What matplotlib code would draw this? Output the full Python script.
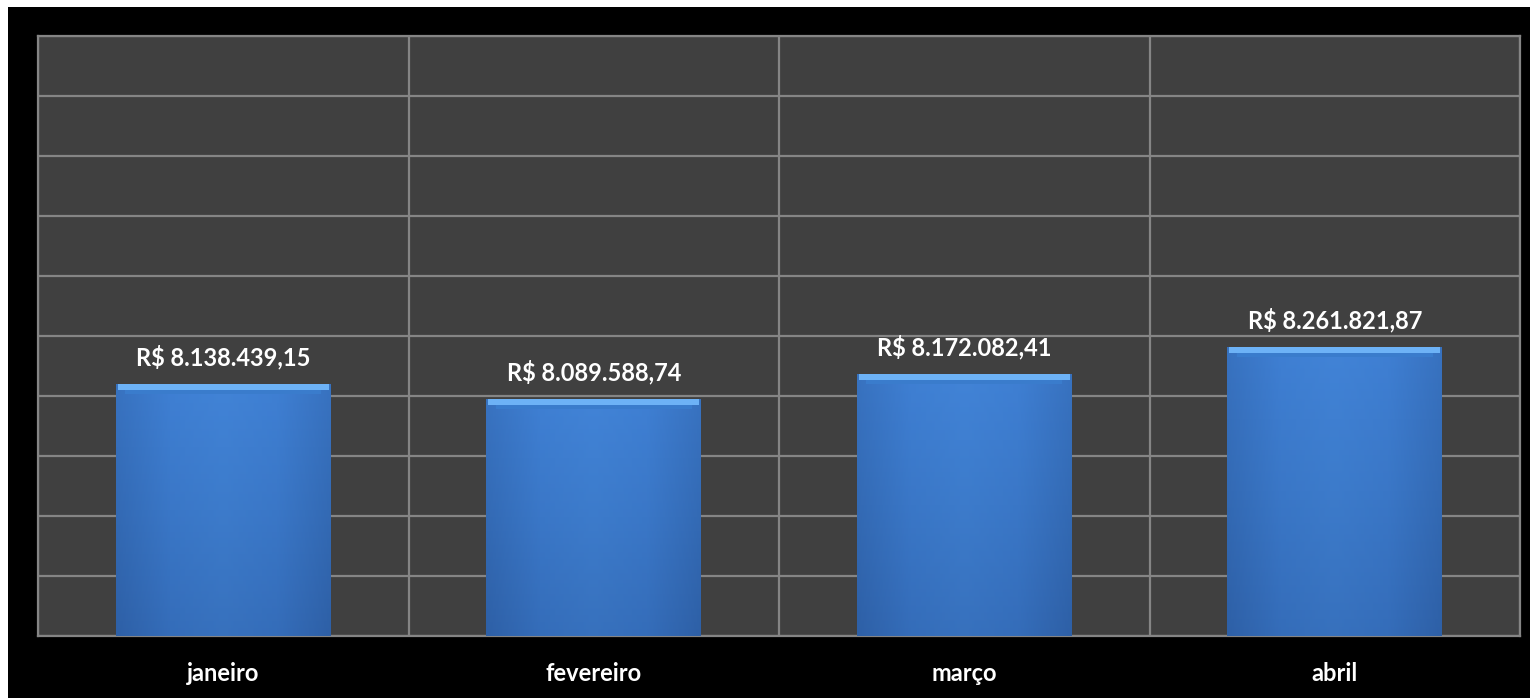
import numpy as np
import matplotlib
matplotlib.use("Agg")
import matplotlib.pyplot as plt
from matplotlib.patches import Rectangle
from matplotlib.colors import LinearSegmentedColormap

# data
months = ['janeiro', 'fevereiro', 'março', 'abril']
values = [8138439.15, 8089588.74, 8172082.41, 8261821.87]
labels = ['R$ 8.138.439,15', 'R$ 8.089.588,74', 'R$ 8.172.082,41', 'R$ 8.261.821,87']
y_min, y_max, y_step = 7300000, 9300000, 200000

plt.rcParams['font.family'] = ['Lato', 'DejaVu Sans']

fig = plt.figure(figsize=(15.3, 6.98), dpi=100, facecolor='white')
# black background with a thin white margin top/left like the screenshot
bg = Rectangle((8 / 1530, 0), 1, 1 - 7 / 698, transform=fig.transFigure,
               facecolor='black', edgecolor='none', zorder=-10)
fig.patches.append(bg)

ax = fig.add_axes([38 / 1530, 1 - 636 / 698, (1520 - 38) / 1530, (636 - 36) / 698])
ax.set_zorder(1)
ax.set_facecolor('#404040')

x = np.arange(len(months))
bw = 0.58
bars = ax.bar(x, [v - y_min for v in values], bottom=y_min, width=bw,
              color='#3b7bd0', edgecolor='none', zorder=3)

# vertical gradient + bevel on each bar
body = LinearSegmentedColormap.from_list('body', ['#3164ab', '#3a75c2', '#4283d6'])
side = LinearSegmentedColormap.from_list('side', ['#2a5aa0', '#3b7bd0', '#4286da', '#3b7bd0', '#2a5aa0'])
px = (y_max - y_min) / 600.0  # data units per pixel
for b, v, lbl in zip(bars, values, labels):
    x0 = b.get_x()
    grad = np.linspace(0, 1, 256).reshape(-1, 1)
    im = ax.imshow(grad, cmap=body, aspect='auto', origin='lower',
                   extent=[x0, x0 + bw, y_min, v], zorder=3.1)
    im.set_clip_path(b)
    horiz = np.linspace(0, 1, 256).reshape(1, -1)
    im2 = ax.imshow(horiz, cmap=side, aspect='auto', alpha=0.4,
                    extent=[x0, x0 + bw, y_min, v], zorder=3.2)
    im2.set_clip_path(b)
    # top bevel: light strip then a darker band
    ax.add_patch(Rectangle((x0 + 0.005, v - 6 * px), bw - 0.01, 6 * px,
                           facecolor='#6db2f6', edgecolor='none', zorder=3.3))
    ax.add_patch(Rectangle((x0 + 0.025, v - 10 * px), bw - 0.05, 4 * px,
                           facecolor='#3a7ccc', edgecolor='none', zorder=3.3))
    ax.text(x0 + bw / 2, v + 15 * px, lbl, ha='center', va='bottom', color='white',
            fontsize=17, fontweight='bold', zorder=5)

ax.set_ylim(y_min, y_max)
ax.set_xlim(-0.5, len(months) - 0.5)
ax.set_yticks(np.arange(y_min, y_max + 1, y_step))
ax.set_yticklabels([])
ax.tick_params(axis='y', length=0)
ax.set_xticks(x)
ax.set_xticklabels(months, color='white', fontsize=17, fontweight='bold')
ax.tick_params(axis='x', length=0, pad=19)
ax.set_xticks(np.arange(-0.5, len(months)), minor=True)
ax.tick_params(axis='x', which='minor', length=0)
ax.grid(axis='y', which='major', color='#858585', linewidth=1.6, zorder=1)
ax.grid(axis='x', which='minor', color='#858585', linewidth=1.6, zorder=1)
ax.grid(axis='x', which='major', visible=False)
ax.set_axisbelow(True)
for s in ax.spines.values():
    s.set_color('#858585')
    s.set_linewidth(1.6)

fig.savefig('out.png', dpi=100, facecolor=fig.get_facecolor())
